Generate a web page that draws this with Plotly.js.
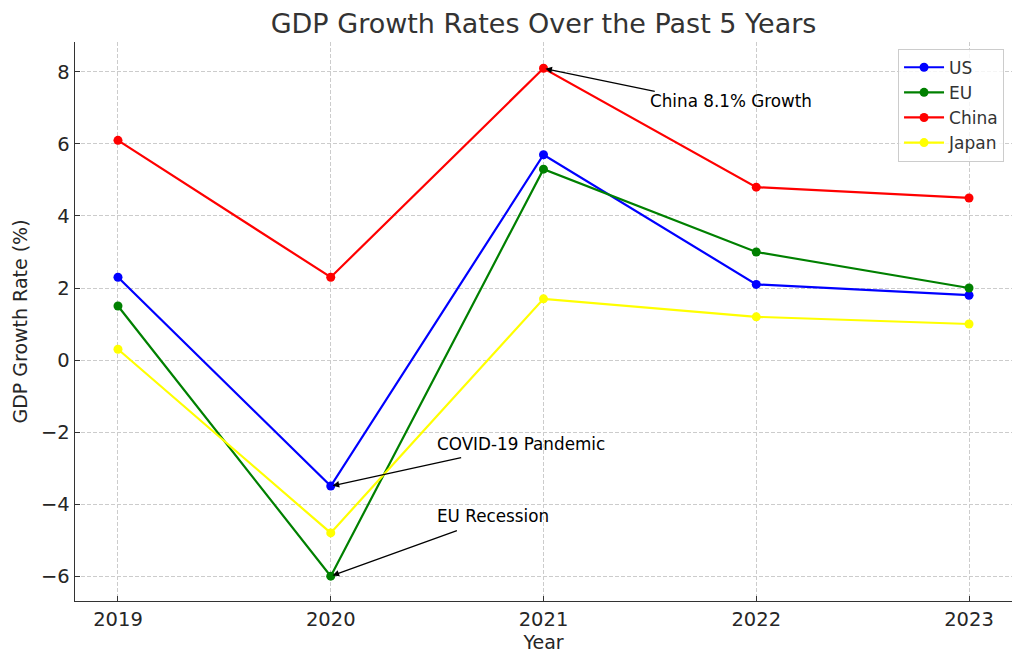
<!DOCTYPE html>
<html><head><meta charset="utf-8">
<script src="https://cdn.plot.ly/plotly-3.0.1.min.js"></script>
<style>html,body{margin:0;padding:0;background:#fff}#chart{width:1024px;height:666px}</style>
</head><body><div id="chart"></div>
<script>
const years = [2019, 2020, 2021, 2022, 2023];
const usGrowth = [2.3, -3.5, 5.7, 2.1, 1.8];
const euGrowth = [1.5, -6.0, 5.3, 3.0, 2.0];
const chinaGrowth = [6.1, 2.3, 8.1, 4.8, 4.5];
const japanGrowth = [0.3, -4.8, 1.7, 1.2, 1.0];
const seriesNames = ['US', 'EU', 'China', 'Japan'];
const seriesColors = ['blue', 'green', 'red', 'yellow'];
const seriesValues = [usGrowth, euGrowth, chinaGrowth, japanGrowth];
const yTicks = [-6, -4, -2, 0, 2, 4, 6, 8];

const notes = [
  {text: 'China 8.1% Growth', x: 2021, y: 8.1, tx: 2021.5, ty: 7.2, ax: 2021.53, ay: 7.45},
  {text: 'COVID-19 Pandemic', x: 2020, y: -3.5, tx: 2020.5, ty: -2.33, ax: 2020.62, ay: -2.7},
  {text: 'EU Recession', x: 2020, y: -6.0, tx: 2020.5, ty: -4.33, ax: 2020.6, ay: -4.72}
];

const font = 'DejaVu Sans, sans-serif';
const traces = seriesNames.map((n, i) => ({
  x: years, y: seriesValues[i], name: n, type: 'scatter', mode: 'lines+markers',
  line: {color: seriesColors[i], width: 2.2}, marker: {color: seriesColors[i], size: 9}
}));

const annotations = [];
notes.forEach(a => {
  annotations.push({x: a.tx, y: a.ty, xref: 'x', yref: 'y', text: a.text, showarrow: false,
    xanchor: 'left', yanchor: 'middle', xshift: -2, font: {family: font, size: 16.8, color: '#000'}});
  annotations.push({x: a.x, y: a.y, xref: 'x', yref: 'y', ax: a.ax, ay: a.ay, axref: 'x', ayref: 'y',
    text: '', showarrow: true, arrowhead: 2, arrowsize: 1, arrowwidth: 1.3, arrowcolor: '#000', standoff: 2});
});

const layout = {
  width: 1024, height: 666,
  margin: {l: 75, r: 12, t: 42, b: 65},
  paper_bgcolor: '#fff', plot_bgcolor: '#fff',
  font: {family: font, color: '#262626'},
  title: {text: 'GDP Growth Rates Over the Past 5 Years', font: {family: font, size: 27, color: '#333'},
    x: 0.5, xref: 'paper', y: 0.965, yanchor: 'middle'},
  xaxis: {range: [2018.798, 2023.202], tickvals: years, ticktext: years.map(String),
    showgrid: true, gridcolor: '#cccccc', griddash: '4px,2px', gridwidth: 1,
    showline: true, linecolor: '#333', linewidth: 1.4, ticks: 'inside', ticklen: 5, tickcolor: '#333',
    tickfont: {size: 19.5, color: '#262626'}, zeroline: false,
    title: {text: 'Year', font: {size: 19, color: '#262626'}, standoff: 6}},
  yaxis: {range: [-6.69, 8.83], tickvals: yTicks,
    showgrid: true, gridcolor: '#cccccc', griddash: '4px,2px', gridwidth: 1,
    showline: true, linecolor: '#333', linewidth: 1.4, ticks: 'inside', ticklen: 5, tickcolor: '#333',
    tickfont: {size: 19.5, color: '#262626'}, zeroline: false,
    title: {text: 'GDP Growth Rate (%)', font: {size: 19, color: '#262626'}, standoff: 8}},
  legend: {x: 0.9915, y: 0.988, xanchor: 'right', yanchor: 'top', bgcolor: 'rgba(255,255,255,0.8)',
    bordercolor: '#cccccc', borderwidth: 1, font: {size: 17, color: '#333'}, itemwidth: 40, tracegroupgap: 0},
  annotations: annotations,
  showlegend: true
};
Plotly.newPlot('chart', traces, layout, {displayModeBar: false, staticPlot: true});
</script></body></html>
